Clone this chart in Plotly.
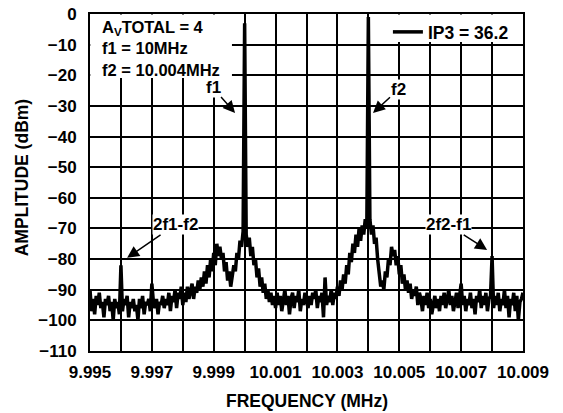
import plotly.graph_objects as go

# sweep: 9.995 MHz .. 10.009 MHz in 50 Hz steps
freq_start = 9.995
freq_step = 0.00005

amplitude_dbm = [
    -90, -97, -93, -98, -92, -95, -91, -96, -94, -99,
    -93, -95, -92, -97, -94, -100, -93, -96, -94, -98,
    -82, -97, -93, -95, -92, -99, -94, -96, -93, -97,
    -95, -100, -93, -96, -92, -98, -94, -95, -93, -97,
    -88, -94, -96, -93, -98, -94, -95, -92, -96, -93,
    -95, -91, -97, -92, -94, -90, -96, -91, -93, -89,
    -95, -91, -94, -89, -93, -90, -88, -93, -89, -91,
    -87, -90, -86, -89, -84, -88, -82, -86, -80, -84,
    -78, -82, -75, -79, -76, -80, -78, -84, -81, -87,
    -84, -89, -85, -82, -84, -78, -80, -74, -76, -71,
    -3, -72, -76, -73, -79, -76, -82, -80, -86, -83,
    -89, -86, -91, -88, -93, -90, -94, -91, -95, -92,
    -96, -91, -95, -92, -97, -93, -90, -95, -92, -98,
    -93, -91, -96, -92, -94, -90, -97, -93, -95, -91,
    -94, -96, -92, -95, -91, -93, -90, -96, -92, -94,
    -91, -99, -86, -95, -92, -94, -90, -95, -91, -93,
    -89, -92, -87, -90, -85, -88, -82, -85, -78, -81,
    -75, -78, -72, -76, -70, -74, -69, -72, -67, -70,
    -1, -67, -72, -69, -75, -73, -80, -85, -89, -87,
    -90, -84, -86, -80, -82, -76, -79, -77, -82, -79,
    -85, -82, -88, -85, -90, -87, -91, -88, -93, -90,
    -92, -89, -95, -91, -93, -97, -92, -95, -91, -96,
    -93, -98, -94, -92, -96, -93, -97, -92, -95, -91,
    -96, -93, -90, -95, -92, -97, -93, -91, -96, -92,
    -88, -95, -92, -97, -93, -95, -91, -96, -93, -98,
    -92, -94, -90, -96, -92, -95, -91, -97, -93, -92,
    -79, -96, -92, -95, -91, -97, -93, -95, -90, -96,
    -92, -99, -93, -95, -91, -97, -92, -100, -94, -93,
    -91,
]
frequency_mhz = [freq_start + freq_step * i for i in range(len(amplitude_dbm))]

x_tick_vals = [9.995, 9.997, 9.999, 10.001, 10.003, 10.005, 10.007, 10.009]
x_tick_text = ["9.995", "9.997", "9.999", "10.001", "10.003", "10.005", "10.007", "10.009"]
y_tick_vals = [0, -10, -20, -30, -40, -50, -60, -70, -80, -90, -100, -110]

info_text = "A<sub>V</sub>TOTAL = 4<br>f1 = 10MHz<br>f2 = 10.004MHz"

FONT = "Liberation Sans, Arial, sans-serif"
BOLD = dict(family=FONT, color="black", weight="bold")

fig = go.Figure(go.Scatter(
    x=frequency_mhz, y=amplitude_dbm,
    mode="lines",
    line=dict(color="black", width=3.5),
    name="IP3 = 36.2",
))

# white patches behind the text box and the legend (they hide the grid)
fig.add_shape(type="rect", layer="between", x0=9.99501, x1=9.99959, y0=-0.2, y1=-20.9,
              fillcolor="white", line_width=0)
fig.add_shape(type="rect", layer="between", x0=10.00464, x1=10.00899, y0=-0.2, y1=-9.1,
              fillcolor="white", line_width=0)

fig.add_annotation(x=9.99532, y=-0.6, xanchor="left", yanchor="top",
                   text=info_text, showarrow=False, align="left",
                   font=dict(BOLD, size=16.5))

# markers pointing at the tones and the IM3 products
arrows = [
    ("f1", 9.99969, -32.3, -22, -25),
    ("f2", 10.00415, -32.3, 25, -23),
    ("2f1-f2", 9.99620, -79.6, 48, -33),
    ("2f2-f1", 10.00784, -77.0, -39, -25),
]
for label, ax_f, ax_db, dx, dy in arrows:
    fig.add_annotation(
        x=ax_f, y=ax_db, ax=dx, ay=dy,
        text=label, showarrow=True,
        arrowhead=2, arrowsize=1.6, arrowwidth=1.5, arrowcolor="black",
        bgcolor="white", borderpad=0,
        font=dict(BOLD, size=17),
    )

# axis titles
fig.add_annotation(xref="paper", yref="paper", x=0.5, y=-0.148,
                   xanchor="center", yanchor="middle", showarrow=False,
                   text="FREQUENCY (MHz)", font=dict(BOLD, size=17.5))
fig.add_annotation(xref="paper", yref="paper", x=-0.155, y=0.515,
                   xanchor="center", yanchor="middle", showarrow=False, textangle=-90,
                   text="AMPLITUDE (dBm)", font=dict(BOLD, size=17.5))

fig.update_layout(
    width=563, height=413,
    margin=dict(l=90, r=40, t=14, b=62),
    paper_bgcolor="white", plot_bgcolor="white",
    font=dict(family=FONT, color="black"),
    showlegend=True,
    legend=dict(
        x=0.688, y=1, xanchor="left", yanchor="top",
        bgcolor="rgba(0,0,0,0)", borderwidth=0, itemwidth=30,
        font=dict(BOLD, size=17.5),
    ),
    xaxis=dict(
        range=[9.995, 10.009], automargin=False,
        tickvals=x_tick_vals, ticktext=x_tick_text,
        tickfont=dict(BOLD, size=17),
        showgrid=True, gridcolor="black", gridwidth=2,
        minor=dict(dtick=0.001, tick0=9.995, showgrid=True, gridcolor="black", gridwidth=2),
        showline=True, linecolor="black", linewidth=2, mirror=True,
        zeroline=False, ticks="", ticklabelstandoff=5,
    ),
    yaxis=dict(
        range=[-110, 0], automargin=False,
        tickvals=y_tick_vals,
        tickfont=dict(BOLD, size=17),
        showgrid=True, gridcolor="black", gridwidth=2,
        showline=True, linecolor="black", linewidth=2, mirror=True,
        zeroline=False, ticks="", ticklabelstandoff=8,
    ),
)

fig.write_html("out.html", config={"displayModeBar": False},
               post_script="document.body.style.margin='0';")
